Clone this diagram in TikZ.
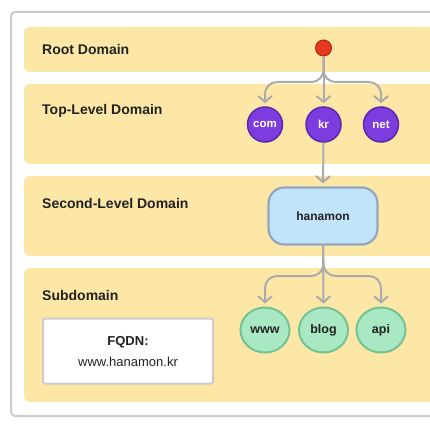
\documentclass[tikz,border=0pt]{standalone}
\usepackage{fontspec}
\setmainfont{Liberation Sans}
\usetikzlibrary{arrows.meta,shapes.geometric}
\definecolor{band}{HTML}{FDE7A6}
\definecolor{frameg}{HTML}{CCCCCC}
\definecolor{arrg}{HTML}{ABABAB}
\definecolor{rootf}{HTML}{E5391C}
\definecolor{rootd}{HTML}{B02A12}
\definecolor{purf}{HTML}{7D3CE0}
\definecolor{purd}{HTML}{5A28A8}
\definecolor{grnf}{HTML}{A8E8C3}
\definecolor{grnd}{HTML}{74C295}
\definecolor{bluf}{HTML}{C2E4FA}
\definecolor{blud}{HTML}{94A6BC}
\definecolor{txt}{HTML}{222222}
\tikzset{
  bandbox/.style={fill=band, rounded corners=6pt},
  lvl/.style={anchor=west, font=\bfseries\fontsize{14}{16}\selectfont, text=txt, inner sep=0pt},
  tld/.style={circle, fill=purf, draw=purd, line width=1.5pt, minimum size=35pt, inner sep=0pt, text=white, font=\bfseries\fontsize{11.5}{14}\selectfont},
  sub/.style={ellipse, fill=grnf, draw=grnd, line width=2pt, minimum width=49pt, minimum height=45pt, inner sep=0pt, text=txt, font=\bfseries\fontsize{12.5}{14}\selectfont},
  wire/.style={draw=arrg, line width=2pt, rounded corners=12pt},
  conn/.style={draw=arrg, line width=2pt, sharp corners, -{Straight Barb[length=6pt,width=14pt]}},
}
\begin{document}
\begin{tikzpicture}[x=1pt,y=-1pt]
\useasboundingbox (0,0) rectangle (430,430);
\clip (0,0) rectangle (430,430);
\fill[white] (0,0) rectangle (430,430);
\draw[frameg, line width=2pt, fill=white, rounded corners=4pt] (11,12) rectangle (460,416);
\fill[bandbox] (24,27) rectangle (460,72);
\fill[bandbox] (24,84) rectangle (460,164);
\fill[bandbox] (24,176) rectangle (460,256);
\fill[bandbox] (24,268) rectangle (460,402);
\node[lvl] (l1) at (42,49) {Root Domain};
\node[lvl] (l2) at (42,111) {Top-Level Domain};
\node[lvl] (l3) at (42,203) {Second-Level Domain};
\node[lvl] (l4) at (42,295) {Subdomain};
\node[circle, fill=rootf, draw=rootd, line width=1pt, minimum size=16pt, inner sep=0pt] (root) at (323.5,48) {};
\node[tld] (com) at (265,124.5) {com};
\node[tld] (kr) at (323.5,124.5) {kr};
\node[tld] (net) at (381,124.5) {net};
\node[rectangle, rounded corners=16pt, fill=bluf, draw=blud, line width=2.2pt, minimum width=109pt, minimum height=57pt, inner sep=0pt, text=txt, font=\bfseries\fontsize{12}{14}\selectfont] (han) at (323,216) {hanamon};
\node[sub] (www) at (265,330) {www};
\node[sub] (blog) at (323.5,330) {blog};
\node[sub] (api) at (381,330) {api};
\node[rectangle, fill=white, draw=frameg, line width=2pt, rounded corners=2pt, minimum width=170pt, minimum height=65pt, inner sep=0pt] (fq) at (128,351) {};
\node[font=\bfseries\fontsize{13}{15}\selectfont, text=txt] (fq1) at (128,342) {FQDN:};
\node[font=\fontsize{13}{15}\selectfont, text=txt] (fq2) at (128,361.5) {www.hanamon.kr};
\coordinate (f1) at (323.5,82);
\coordinate (f2) at (323.5,276);
% TLD fan-out
\draw[wire] (root.south) -- (f1) -| ([yshift=10pt]com.north);
\draw[wire] (root.south) -- (f1) -| ([yshift=10pt]net.north);
\draw[conn] ([yshift=11pt]com.north) -- ([yshift=3pt]com.north);
\draw[conn] ([yshift=11pt]net.north) -- ([yshift=3pt]net.north);
\draw[conn] (root.south) -- ([yshift=3pt]kr.north);
\draw[conn] (kr.south) -- ([yshift=3pt]han.north);
% subdomain fan-out
\draw[wire] (han.south) -- (f2) -| ([yshift=10pt]www.north);
\draw[wire] (han.south) -- (f2) -| ([yshift=10pt]api.north);
\draw[conn] ([yshift=11pt]www.north) -- ([yshift=3pt]www.north);
\draw[conn] ([yshift=11pt]api.north) -- ([yshift=3pt]api.north);
\draw[conn] (han.south) -- ([yshift=3pt]blog.north);
\end{tikzpicture}
\end{document}
